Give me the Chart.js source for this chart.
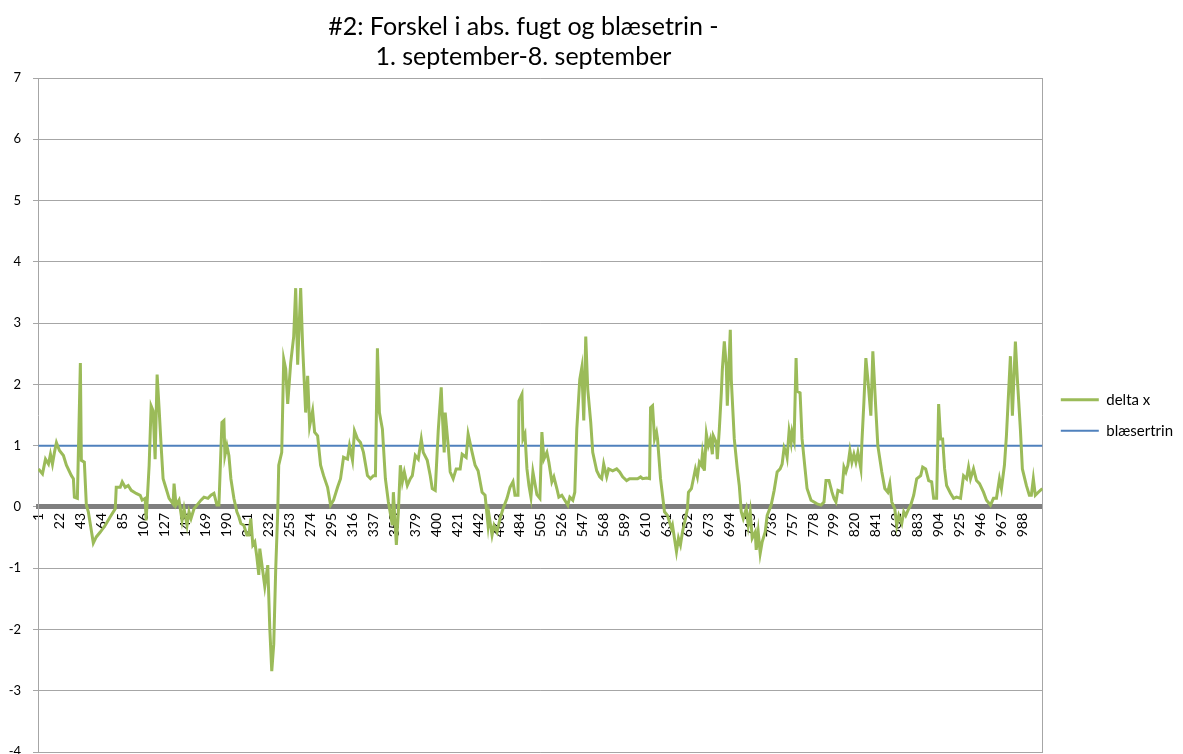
<!DOCTYPE html>
<html>
<head>
<meta charset="utf-8">
<script src="https://cdn.jsdelivr.net/npm/chart.js@4.4.1/dist/chart.umd.min.js"></script>
<style>
  html, body { margin: 0; padding: 0; background: #ffffff; }
  #wrap { width: 1183px; height: 754px; }
</style>
</head>
<body>
<div id="wrap"><canvas id="c" width="1183" height="754"></canvas></div>
<script>
const titleLines = ["#2: Forskel i abs. fugt og blæsetrin -", "1. september-8. september"];
const seriesNames = ["delta x", "blæsertrin"];

// x tick labels shown on the category axis (measurement number)
const xTickLabels = [1, 22, 43, 64, 85, 106, 127, 148, 169, 190, 211, 232, 253, 274, 295, 316, 337, 358, 379, 400,
  421, 442, 463, 484, 505, 526, 547, 568, 589, 610, 631, 652, 673, 694, 715, 736, 757, 778, 799, 820,
  841, 862, 883, 904, 925, 946, 967, 988];
const yTickLabels = [-4, -3, -2, -1, 0, 1, 2, 3, 4, 5, 6, 7];
const categoryCount = 1008;

const deltaCats = [
  1, 5, 8, 11, 13, 15, 17, 19, 22, 26, 29, 34, 36, 37, 40, 43, 44, 47, 49, 51,
  56, 59, 63, 68, 73, 78, 79, 83, 85, 88, 91, 94, 99, 103, 105, 108, 109, 112, 114, 116,
  118, 120, 122, 124, 126, 129, 132, 136, 137, 139, 142, 145, 147, 150, 152, 154, 157, 161, 164, 167,
  171, 174, 177, 180, 182, 185, 187, 188, 190, 192, 194, 197, 200, 202, 204, 207, 210, 212, 214, 216,
  218, 220, 222, 223, 226, 228, 231, 233, 235, 237, 239, 241, 242, 245, 247, 249, 251, 254, 257, 259,
  261, 264, 266, 269, 271, 273, 276, 278, 281, 284, 287, 291, 294, 297, 301, 304, 307, 311, 313, 316,
  318, 321, 324, 327, 331, 334, 337, 339, 341, 343, 346, 349, 352, 356, 357, 360, 362, 364, 366, 368,
  371, 374, 376, 379, 382, 385, 387, 391, 394, 396, 399, 402, 405, 406, 408, 409, 412, 414, 417, 420,
  424, 426, 430, 432, 436, 439, 442, 446, 449, 452, 453, 456, 458, 461, 464, 467, 471, 474, 477, 479,
  482, 483, 486, 487, 489, 491, 493, 495, 497, 501, 504, 506, 508, 511, 513, 516, 518, 521, 523, 526,
  529, 532, 534, 537, 539, 541, 544, 546, 548, 550, 552, 555, 557, 561, 564, 566, 568, 571, 573, 577,
  581, 584, 587, 591, 594, 599, 602, 605, 607, 611, 614, 615, 617, 619, 621, 622, 625, 627, 629, 632,
  636, 637, 641, 643, 645, 647, 650, 652, 653, 656, 658, 660, 662, 664, 666, 667, 669, 671, 673, 675,
  677, 678, 681, 682, 684, 686, 687, 689, 691, 692, 695, 696, 699, 702, 704, 706, 708, 711, 713, 715,
  717, 720, 721, 723, 725, 727, 730, 732, 736, 739, 742, 745, 747, 749, 751, 752, 754, 756, 757, 759,
  761, 762, 765, 767, 770, 772, 776, 779, 782, 786, 789, 791, 794, 797, 799, 801, 803, 807, 809, 811,
  813, 815, 817, 819, 821, 823, 826, 827, 829, 831, 833, 836, 838, 841, 843, 847, 850, 853, 855, 857,
  860, 862, 864, 867, 869, 871, 874, 876, 879, 882, 886, 888, 891, 894, 897, 899, 902, 904, 906, 908,
  910, 912, 916, 919, 922, 926, 929, 932, 934, 936, 939, 942, 945, 949, 952, 956, 959, 962, 965, 967,
  970, 972, 976, 978, 981, 983, 986, 988, 992, 995, 997, 999, 1001, 1004, 1008
];
const deltaValues = [
  0.62, 0.54, 0.78, 0.70, 0.86, 0.70, 0.89, 1.05, 0.92, 0.84, 0.68, 0.51, 0.46, 0.16, 0.14, 2.35, 0.76, 0.73, 0.03, -0.08,
  -0.59, -0.49, -0.41, -0.30, -0.16, -0.03, 0.32, 0.32, 0.41, 0.32, 0.35, 0.27, 0.22, 0.19, 0.11, 0.14, -0.22, 0.68, 1.65, 1.57,
  0.78, 2.16, 1.60, 1.00, 0.46, 0.30, 0.14, 0.05, 0.38, 0.03, 0.11, -0.22, -0.03, -0.30, -0.08, -0.19, -0.03, 0.05, 0.11, 0.16,
  0.14, 0.19, 0.22, 0.03, 0.03, 1.38, 1.41, 0.84, 1.00, 0.84, 0.46, 0.14, -0.08, -0.16, -0.27, -0.30, -0.46, -0.46, -0.19, -0.62,
  -0.57, -0.81, -1.11, -0.68, -1.05, -1.30, -0.95, -1.97, -2.68, -2.24, -1.00, -0.08, 0.68, 0.89, 2.41, 2.25, 1.68, 2.35, 2.78, 3.57,
  2.32, 3.57, 2.62, 1.54, 2.14, 1.32, 1.57, 1.22, 1.16, 0.68, 0.51, 0.32, 0.03, 0.11, 0.32, 0.46, 0.81, 0.78, 1.00, 0.76,
  1.24, 1.11, 1.05, 0.89, 0.51, 0.46, 0.51, 0.51, 2.59, 1.54, 1.27, 0.46, 0.08, -0.30, 0.24, -0.62, -0.08, 0.68, 0.41, 0.57,
  0.35, 0.46, 0.51, 0.84, 0.78, 1.11, 0.89, 0.76, 0.51, 0.30, 0.27, 1.24, 1.95, 1.54, 0.89, 1.54, 1.00, 0.57, 0.46, 0.62,
  0.62, 0.86, 0.81, 1.19, 0.89, 0.68, 0.59, 0.24, 0.19, -0.30, -0.14, -0.46, -0.30, -0.41, -0.19, -0.03, 0.14, 0.32, 0.41, 0.19,
  0.19, 1.73, 1.84, 1.11, 1.19, 0.62, 0.35, 0.16, 0.57, 0.20, 0.14, 1.22, 0.78, 0.89, 0.73, 0.41, 0.49, 0.30, 0.16, 0.19,
  0.11, 0.03, 0.16, 0.11, 0.24, 1.27, 2.08, 2.27, 1.41, 2.78, 1.92, 1.38, 0.89, 0.59, 0.49, 0.46, 0.70, 0.49, 0.62, 0.59,
  0.62, 0.57, 0.49, 0.43, 0.46, 0.46, 0.46, 0.49, 0.46, 0.47, 0.46, 1.62, 1.65, 1.11, 1.22, 1.11, 0.46, 0.19, -0.08, -0.14,
  -0.35, -0.30, -0.73, -0.51, -0.62, -0.41, -0.19, -0.03, 0.24, 0.30, 0.46, 0.62, 0.49, 0.73, 0.68, 0.86, 0.59, 1.19, 1.00, 1.11,
  0.86, 1.16, 1.05, 0.78, 1.27, 1.86, 2.24, 2.70, 2.30, 1.65, 2.89, 2.08, 1.11, 0.62, 0.35, -0.08, -0.19, -0.03, -0.30, -0.08,
  -0.51, -0.41, -0.70, -0.41, -0.76, -0.57, -0.41, -0.14, 0.03, 0.27, 0.57, 0.62, 0.70, 0.97, 0.89, 0.81, 1.24, 1.05, 1.22, 1.08,
  2.43, 1.89, 1.86, 1.11, 0.62, 0.30, 0.11, 0.08, 0.05, 0.03, 0.08, 0.43, 0.43, 0.24, 0.14, 0.08, 0.27, 0.24, 0.65, 0.57,
  0.68, 0.92, 0.73, 0.86, 0.73, 0.89, 0.62, 1.05, 1.70, 2.43, 2.08, 1.49, 2.54, 1.59, 1.00, 0.57, 0.30, 0.24, 0.38, 0.08,
  -0.03, -0.30, -0.14, -0.27, -0.08, -0.14, -0.03, 0.03, 0.19, 0.46, 0.51, 0.65, 0.62, 0.43, 0.41, 0.14, 0.14, 1.68, 1.11, 1.11,
  0.62, 0.35, 0.22, 0.14, 0.16, 0.14, 0.51, 0.46, 0.65, 0.46, 0.62, 0.43, 0.38, 0.24, 0.11, 0.03, 0.14, 0.14, 0.46, 0.30,
  0.68, 1.16, 2.46, 1.49, 2.70, 2.08, 1.27, 0.62, 0.35, 0.19, 0.19, 0.46, 0.19, 0.24, 0.30
];

// blæsertrin: constant level across the whole period
const blaeserCats = [1, 1008];
const blaeserValues = [1, 1];

const FONT = "Lato, 'Open Sans', sans-serif";

const deltaData = deltaCats.map((c, i) => ({ x: c, y: deltaValues[i] }));
const blaeserData = blaeserCats.map((c, i) => ({ x: c, y: blaeserValues[i] }));

// shift the (chart-area wide) title a little to the left, as in the original
const titleShift = {
  id: 'titleShift',
  afterLayout(chart) {
    const t = chart.titleBlock;
    if (t) { t.left -= 34; }
  }
};

new Chart(document.getElementById('c'), {
  type: 'line',
  data: {
    datasets: [
      { label: seriesNames[0], data: deltaData, borderColor: '#9bbb59', backgroundColor: '#9bbb59',
        borderWidth: 3, pointRadius: 0, tension: 0, fill: false },
      { label: seriesNames[1], data: blaeserData, borderColor: '#4f81bd', backgroundColor: '#4f81bd',
        borderWidth: 2, pointRadius: 0, tension: 0, fill: false }
    ]
  },
  plugins: [titleShift],
  options: {
    responsive: false,
    animation: false,
    events: [],
    layout: { padding: { left: 0, right: 0, top: 6, bottom: 0 } },
    plugins: {
      title: {
        display: true, text: titleLines, fullSize: false,
        font: { family: FONT, size: 25, weight: 'normal' }, color: '#000000',
        padding: { top: 6, bottom: 6 }, lineHeight: 1.24
      },
      legend: {
        position: 'right',
        title: { display: true, text: '', font: { size: 13 }, padding: { top: 55, bottom: 0 } },
        labels: {
          usePointStyle: true, pointStyle: 'line', pointStyleWidth: 38,
          font: { family: FONT, size: 15 }, color: '#000000', padding: 16
        }
      },
      tooltip: { enabled: false }
    },
    scales: {
      x: {
        type: 'linear', min: 0.5, max: categoryCount + 0.5,
        position: { y: 0 },
        afterBuildTicks: s => { s.ticks = xTickLabels.map(v => ({ value: v })); },
        afterFit: s => { s.height = 0; },
        grid: { display: false, drawTicks: false },
        border: { display: true, color: '#7f7f7f', width: 5 },
        ticks: { autoSkip: false, maxRotation: 90, minRotation: 90, padding: 6,
          font: { family: FONT, size: 14 }, color: '#000000', callback: v => String(v) }
      },
      y: {
        min: yTickLabels[0], max: yTickLabels[yTickLabels.length - 1],
        afterBuildTicks: s => { s.ticks = yTickLabels.map(v => ({ value: v })); },
        afterFit: s => { s.width = 38; s.paddingTop = 0; s.paddingBottom = 2; },
        grid: { color: '#a6a6a6', tickLength: 5 },
        border: { color: '#a6a6a6' },
        ticks: { padding: 12, font: { family: FONT, size: 13 }, color: '#000000' }
      },
      y2: {
        position: 'right', min: yTickLabels[0], max: yTickLabels[yTickLabels.length - 1],
        afterFit: s => { s.width = 2; s.paddingTop = 0; s.paddingBottom = 0; },
        grid: { display: false, drawTicks: false },
        border: { color: '#a6a6a6' },
        ticks: { display: false }
      }
    }
  }
});
</script>
</body>
</html>
